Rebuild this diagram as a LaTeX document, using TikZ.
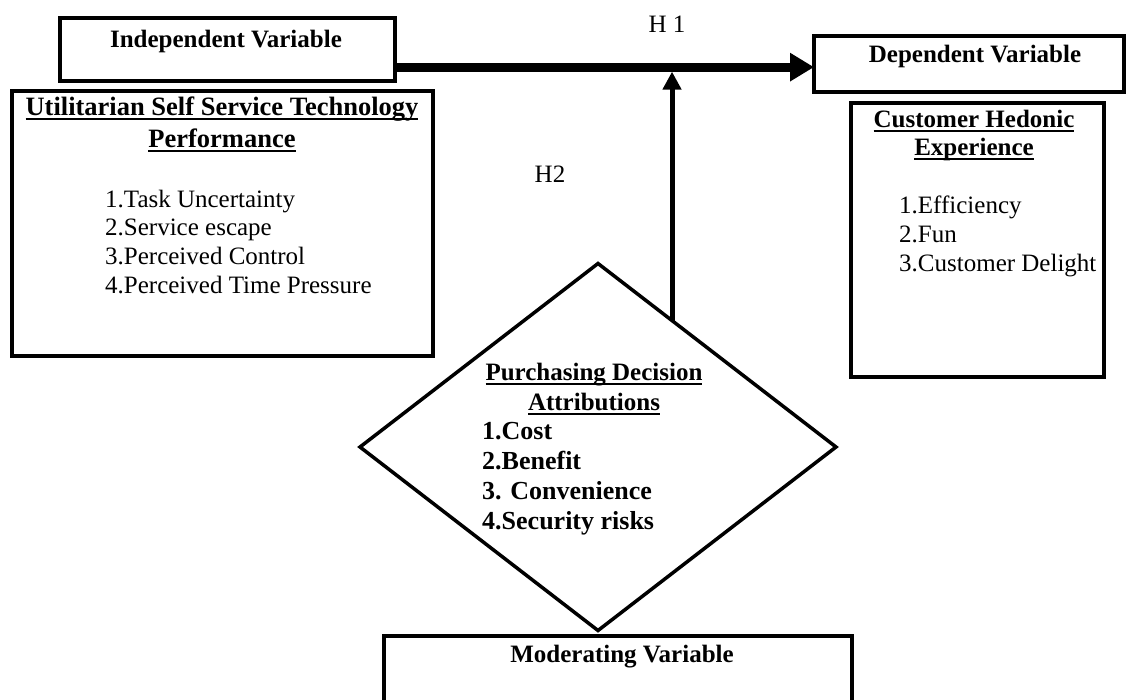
\documentclass[tikz,border=0pt]{standalone}
\usepackage{fontspec}
\setmainfont{Liberation Serif}
\usetikzlibrary{shapes.geometric,arrows.meta,calc}
\newsavebox\ulsave
% underlined heading word(s) with a heavier rule than \underline
\newcommand\ulhead[1]{\sbox\ulsave{#1}\rlap{\raisebox{-5pt}{\rule{\wd\ulsave}{1.8pt}}}\usebox\ulsave}
\tikzset{
  frame/.style={draw, line width=4pt, inner sep=0pt, outer sep=0pt, anchor=north west},
  txt/.style={inner sep=0pt, font=\fontsize{25}{29}\selectfont},
  btxt/.style={txt, font=\fontsize{25}{29}\selectfont\bfseries},
  dtxt/.style={txt, font=\fontsize{26}{30}\selectfont\bfseries},
  bigarrow/.style={line width=9pt, -{Triangle[length=24pt,width=27pt]}},
  modarrow/.style={line width=5pt, -{Triangle[length=18pt,width=18pt]}}
}
\begin{document}
\begin{tikzpicture}[x=1pt,y=-1pt]
\path[use as bounding box] (0,0) rectangle (1129,699);
\clip (0,0) rectangle (1129,699);

% boxes
\node[frame, minimum width=335pt, minimum height=63pt] (indep) at (60,18) {};
\node[frame, minimum width=421pt, minimum height=265pt] (util) at (12,91) {};
\node[frame, minimum width=310pt, minimum height=56pt] (dep) at (814,36) {};
\node[frame, minimum width=253pt, minimum height=274pt] (hed) at (851,103) {};
\node[frame, line width=3.5pt, minimum width=468pt, minimum height=100pt] (mod) at (384,636) {};
\node[draw, diamond, line width=3.5pt, inner sep=0pt, outer sep=0pt,
      minimum width=476pt, minimum height=367pt] (pda) at (598,447) {};

% box texts
\node[btxt, anchor=base] (indepT) at (226,47) {Independent Variable};
\node[btxt, anchor=base, font=\fontsize{26.5}{30}\selectfont\bfseries] (utilT1) at (222,115) {\ulhead{Utilitarian Self Service Technology}};
\node[btxt, anchor=base, font=\fontsize{26.5}{30}\selectfont\bfseries] (utilT2) at (222,147) {\ulhead{Performance}};
\foreach \t [count=\i] in {1.Task Uncertainty, 2.Service escape, 3.Perceived Control, 4.Perceived Time Pressure}
  \node[txt, anchor=base west] (util\i) at (105,{207+28.7*(\i-1)}) {\t};

\node[btxt, anchor=base] (depT) at (975,62) {Dependent Variable};
\node[btxt, anchor=base] (hedT1) at (974,127) {\ulhead{Customer Hedonic}};
\node[btxt, anchor=base] (hedT2) at (974,155) {\ulhead{Experience}};
\foreach \t [count=\i] in {1.Efficiency, 2.Fun, 3.Customer Delight}
  \node[txt, anchor=base west] (hed\i) at (899,{213+29*(\i-1)}) {\t};

\node[btxt, anchor=base] (pdaT1) at (594,380) {\ulhead{Purchasing Decision}};
\node[btxt, anchor=base] (pdaT2) at (594,410) {\ulhead{Attributions}};
\foreach \t [count=\i] in {1.Cost, 2.Benefit, 3. Convenience, 4.Security risks}
  \node[dtxt, anchor=base west] (pda\i) at (482,{439+30*(\i-1)}) {\t};

\node[btxt, anchor=base] (modT) at (622,662) {Moderating Variable};

% hypothesis labels
\node[txt, anchor=base] (h1) at (667,32) {H 1};
\node[txt, anchor=base] (h2) at (550,182) {H2};

% connectors
\coordinate (h1s) at ($(indep.south east)!0.22!(indep.north east)$);
\draw[bigarrow] (h1s) -- (h1s -| dep.west);
\coordinate (h2s) at ($(pda.north)!0.311!(pda.east)$);
\draw[modarrow, shorten >=4.5pt] (h2s) -- (h2s |- h1s);
\end{tikzpicture}
\end{document}
